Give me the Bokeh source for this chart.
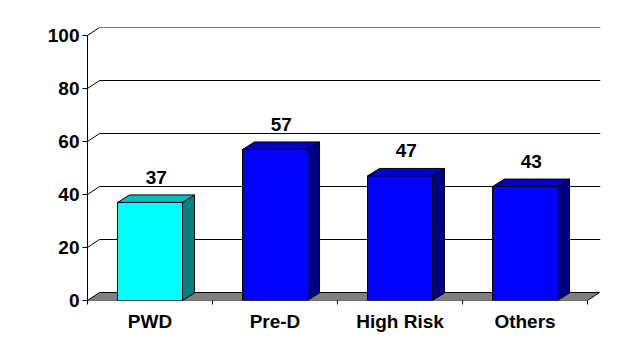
from bokeh.plotting import figure
from bokeh.models import Range1d, FixedTicker, ColumnDataSource
from bokeh.core.properties import value
from bokeh.embed import file_html
from bokeh.resources import INLINE

# ---- data ----
categories = ["PWD", "Pre-D", "High Risk", "Others"]
values = [37, 57, 47, 43]
value_labels = ["37", "57", "47", "43"]
y_ticks = [0, 20, 40, 60, 80, 100]

front_colors = ["#00FFFF", "#0000FF", "#0000FF", "#0000FF"]
top_colors = ["#00C0C0", "#0000C8", "#0000C8", "#0000C8"]
side_colors = ["#008080", "#000080", "#000080", "#000080"]

# ---- geometry (pixels -> data units) ----
PX_X = 125.0          # px per category
PX_Y = 2.65           # px per value unit
FRAME_W = 513
FRAME_H = 273
X_END = FRAME_W / PX_X
Y_END = FRAME_H / PX_Y
DX = 12 / PX_X        # depth offset x
DY_WALL = 8 / PX_Y    # depth offset y for walls/floor
DY_BAR = 7.5 / PX_Y   # depth offset y for bars
BAR_W = 0.52

n = len(categories)
centers = [i + 0.5 for i in range(n)]
bounds = [float(i) for i in range(n + 1)]
FONT = "Liberation Sans"

p = figure(width=635, height=350, output_backend="svg", toolbar_location=None,
           x_range=Range1d(0, X_END), y_range=Range1d(0, Y_END),
           min_border_left=87, min_border_right=35, min_border_top=27,
           min_border_bottom=50)
p.outline_line_color = None
p.xgrid.grid_line_color = None
p.ygrid.grid_line_color = None
p.background_fill_color = "white"

# back wall gridlines and left wall diagonals
grid_vals = [t for t in y_ticks if t > 0]
p.segment(x0=[DX] * len(grid_vals), y0=[t + DY_WALL for t in grid_vals],
          x1=[X_END] * len(grid_vals), y1=[t + DY_WALL for t in grid_vals],
          line_color="black", line_width=1)
p.segment(x0=[0] * len(grid_vals), y0=grid_vals,
          x1=[DX] * len(grid_vals), y1=[t + DY_WALL for t in grid_vals],
          line_color="black", line_width=1)

# floor
p.patch(x=[0, n, n + DX, DX], y=[0, 0, DY_WALL, DY_WALL],
        fill_color="#808080", line_color="black", line_width=1)

# bars
left = [c - BAR_W / 2 for c in centers]
right = [c + BAR_W / 2 for c in centers]
top_xs = [[l, r, r + DX, l + DX] for l, r in zip(left, right)]
top_ys = [[v, v, v + DY_BAR, v + DY_BAR] for v in values]
side_xs = [[r, r + DX, r + DX, r] for r in right]
side_ys = [[0, DY_BAR, v + DY_BAR, v] for v in values]

p.patches(xs=side_xs, ys=side_ys, fill_color=side_colors, line_color="black", line_width=1)
p.patches(xs=top_xs, ys=top_ys, fill_color=top_colors, line_color="black", line_width=1)
p.vbar(x=centers, top=values, bottom=0, width=BAR_W, fill_color=front_colors,
       line_color="black", line_width=1)

# value labels
src = ColumnDataSource(dict(x=[c + 0.05 for c in centers], y=values, t=value_labels))
p.text(x="x", y="y", text="t", source=src, y_offset=-25,
       text_align="center", text_baseline="alphabetic",
       text_font=value(FONT), text_font_style="bold", text_font_size="19px",
       text_color="black")

# y axis
p.yaxis.ticker = FixedTicker(ticks=y_ticks)
p.yaxis.bounds = (0, 100)
p.yaxis.axis_line_color = "black"
p.yaxis.major_tick_line_color = "black"
p.yaxis.major_tick_out = 5
p.yaxis.major_tick_in = 0
p.yaxis.minor_tick_line_color = None
p.yaxis.major_label_standoff = 3
p.yaxis.major_label_text_font = FONT
p.yaxis.major_label_text_font_style = "bold"
p.yaxis.major_label_text_font_size = "19px"
p.yaxis.major_label_text_color = "black"

# x axis
p.xaxis.ticker = FixedTicker(ticks=centers, minor_ticks=bounds)
p.xaxis.major_label_overrides = {c: cat for c, cat in zip(centers, categories)}
p.xaxis.axis_line_color = None
p.xaxis.major_tick_line_color = None
p.xaxis.major_tick_out = 0
p.xaxis.major_tick_in = 0
p.xaxis.minor_tick_line_color = "black"
p.xaxis.minor_tick_out = 4
p.xaxis.minor_tick_in = 0
p.xaxis.major_label_standoff = 6
p.xaxis.major_label_text_font = FONT
p.xaxis.major_label_text_font_style = "bold"
p.xaxis.major_label_text_font_size = "19px"
p.xaxis.major_label_text_color = "black"

open("out.html", "w").write(file_html(p, INLINE))
